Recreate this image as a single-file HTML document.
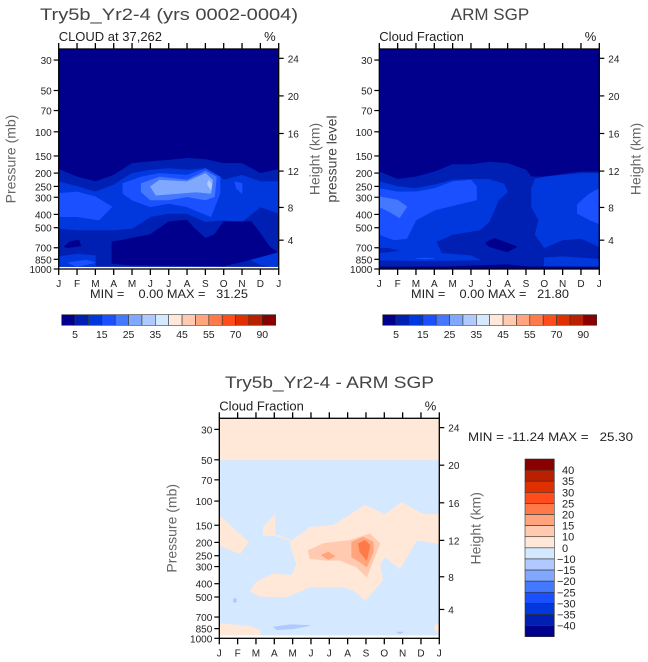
<!DOCTYPE html>
<html><head><meta charset="utf-8">
<style>
html,body{margin:0;padding:0;background:#fff;}
svg{display:block;font-family:"Liberation Sans",sans-serif;}
.pre{white-space:pre;}
</style></head>
<body>
<svg id="chart" width="648" height="662" viewBox="0 0 648 662" xmlns="http://www.w3.org/2000/svg"></svg>
<script>
// ---------- data ----------
const months = ['J','F','M','A','M','J','J','A','S','O','N','D','J'];
const pTicks = [30,50,70,100,150,200,250,300,400,500,700,850,1000];
const hTicks = [24,20,16,12,8,4];
const palette = ['#00008c','#0020b4','#0038de','#1a50ff','#4478ff','#80a8ff','#b0caff','#d4e8ff','#ffe8d8','#ffcab0','#ffa47c','#ff7a48','#ff4c1a','#e03000','#b82000','#880000'];
const topBarLabels = ['5','15','25','35','45','55','70','90'];
const diffBarLabels = ['40','35','30','25','20','15','10','0','-10','-15','-20','-25','-30','-35','-40'];

// model panel contour polygons: [month, pressure mb]
const modelL1 = [[0,188],[1,213],[2,231],[3,207],[4,170],[5,165],[6,161],[7,156],[8,159],[9,170],[10,170],[11,201],[12,188],[12,1000],[0,1000]];
const modelL2 = [[0,231],[1,251],[2,274],[3,244],[4,201],[5,190],[6,185],[7,190],[8,185],[8.8,213],[9,225],[10,207],[11,231],[12,231],[12,394],[11,352],[10,452],[9,440],[8,452],[7,394],[6,394],[5,416],[4,506],[3,520],[2,520],[1,520],[0,506]];
const modelNavyLow = [[2.9,633],[3.5,615],[5,560],[6,452],[7,440],[7.4,506],[8,598],[8.5,560],[9,452],[10.5,452],[10.8,506],[11.5,688],[12,770],[11,814],[10,885],[9,950],[4,936],[2.9,911]];
const modelNavyBlob = [[0.6,633],[1.1,615],[1.2,680],[0.5,700],[0.3,688]];
const modelL2Low = [[0,814],[1,780],[2,800],[2,970],[0,970]];
const modelL2LowR = [[10.5,861],[11.5,790],[12,760],[12,970],[11,930]];
const modelL3Low = [[0.5,900],[1.5,861],[2,900],[1,960]];
const modelL3a = [[0,281],[1,274],[2,297],[2.9,352],[2.2,440],[1,416],[0,416]];
const modelL3b = [[3.5,238],[4.5,213],[5.5,201],[7,207],[8,185],[8.8,213],[8.8,281],[8.3,416],[7,352],[6,333],[5,352],[4,314],[3.5,281]];
const modelL3c = [[9.6,231],[10,238],[10,281],[9.7,259]];
const modelL4 = [[4.5,238],[5.5,213],[7,225],[8,193],[8.6,213],[8.5,297],[8,314],[7,297],[6,314],[5,314],[4.5,274]];
const modelL5 = [[5,251],[5.5,225],[7,231],[8,201],[8.4,225],[8.3,281],[7.5,274],[6.5,281],[5.3,290]];
const modelL6 = [[8.2,225],[8.35,240],[8.3,265],[8.1,240]];

// ARM panel contour polygons
const armL1 = [[0,196],[1,222],[2,213],[3,196],[4,173],[5,173],[6,166],[7,170],[8,190],[8.3,213],[9,213],[10,204],[11,196],[12,196],[12,1000],[0,1000]];
const armL2a = [[0,231],[1,251],[2,259],[3,244],[4,225],[5,222],[6,222],[6.8,240],[7,274],[6.5,314],[6,452],[5.5,520],[4,560],[3.1,633],[3.4,770],[5,800],[5.5,861],[2,870],[0,860],[0,770],[1.2,740],[0.5,700],[0,700]];
const armL2b = [[8.5,222],[9,213],[10,207],[11,201],[12,201],[12,688],[11,598],[10,615],[9,700],[8.5,560],[8.7,440],[8.3,352],[8.3,259]];
const armL2c = [[9,828],[10,814],[12,850],[12,950],[9,950]];
const armL3a = [[0,259],[1,274],[2,274],[3,259],[4,231],[5,225],[5.3,251],[5.3,314],[4.5,333],[3,372],[2,440],[1.5,598],[0.8,615],[0,560]];
const armL4a = [[0,297],[1,314],[1.5,352],[1.1,423],[0.5,380],[0,352]];
const armL3b = [[11,320],[11.5,281],[12,259],[12,470],[11.5,440],[10.8,394],[10.8,340]];
const armL3c = [[2,838],[2.5,830],[3,835],[2.5,845]];
const armNavyBlob = [[6,620],[6.3,598],[7.5,688],[7,750],[6,688],[5.8,650]];
const armNavyBottom = [[0,965],[4,960],[7,930],[8,960],[12,975],[12,1000],[0,1000]];

// difference panel polygons
const diffTop = [[0,10],[12,10],[12,50],[0,50]];
const diffPeachLeft = [[0,127],[1.58,199],[1.13,242],[0,210]];
const diffPeachMain = [[2.4,155],[3.04,125],[3.04,178],[3.95,195],[4.95,155],[6.22,150],[7.95,107],[9.04,125],[9.95,102],[11.13,125],[12,125],[12,204],[10.76,193],[9.85,311],[9.04,256],[8.76,286],[8.91,378],[7.95,529],[7.31,447],[6.76,423],[4.95,423],[3.67,500],[2.22,495],[1.67,452],[2.04,389],[2.95,338],[3.95,348],[4.22,286],[3.95,229],[3.85,193],[3.31,178],[2.4,178]];
const diffPeachBottom = [[0,782],[1.67,819],[2.22,875],[2.22,1000],[0,1000]];
const diffPeachBR = [[11.76,805],[12,782],[12,925],[11.76,875]];
const diff10 = [[4.85,229],[5.67,204],[7.13,193],[8.22,173],[8.76,204],[8.04,358],[7.49,302],[6.58,270],[5.85,270],[4.95,263]];
const diff15a = [[5.58,248],[5.95,235],[6.31,253],[5.95,267]];
const diff15b = [[7.22,199],[7.85,183],[8.4,199],[8.4,235],[8.04,302],[7.67,278],[7.22,256]];
const diff20 = [[7.58,204],[7.95,193],[8.22,210],[8.04,270],[7.67,235]];
const diffBlue1 = [[2.95,828],[3.85,796],[4.95,805],[4.04,852],[3.13,865]];
const diffBlue2 = [[9.67,900],[10.04,900],[9.85,925]];
const diffBlue3 = [[0.8,510],[0.95,520],[0.9,550],[0.75,540]];

// ---------- drawing ----------
const NS = 'http://www.w3.org/2000/svg';
const svg = document.getElementById('chart');
function el(tag, attrs, parent){
  const e = document.createElementNS(NS, tag);
  for (const k in attrs) e.setAttribute(k, attrs[k]);
  (parent||svg).appendChild(e);
  return e;
}
function txt(s, attrs, parent){ const t = el('text', attrs, parent); t.textContent = s; return t; }
function hToP(z){ z*=1000; return z<=11000 ? 1013.25*Math.pow(1-2.2558e-5*z,5.2559) : 226.32*Math.exp(-(z-11000)/6341.6); }

function panel(cfg){
  const g = el('g', {});
  
  
  const x0=cfg.x0, w=220, yB=cfg.yB, yT=yB-220;
  const xS = m => x0 + m*w/12;
  const yS = p => yB - 137.2*Math.log10(1000/p);
  const cid = cfg.name+'-clip';
  const cp = el('clipPath', {id:cid}, g);
  el('rect', {x:x0, y:yT, width:w, height:yS(cfg.fillBottom)-yT}, cp);
  const fg = el('g', {'clip-path':'url(#'+cid+')'}, g);
  const bg = el('rect', {x:x0, y:yT, width:w, height:220, fill:palette[cfg.bgLevel]}, fg);
  
  
  cfg.polys.forEach(([pts, lvl, nm]) => {
    const d = pts.map(([m,p],i)=>(i?'L':'M')+xS(m).toFixed(1)+','+yS(p).toFixed(1)).join('')+'Z';
    const pe = el('path', {d:d, fill:palette[lvl], stroke:palette[lvl], 'stroke-width':0.6, 'stroke-linejoin':'round'}, fg);
    
    
  });
  const fr = el('rect', {x:x0, y:yT, width:w, height:220, fill:'none', stroke:'#000', 'stroke-width':1.3}, g);
  
  
  months.forEach((m,i)=>{
    const x = xS(i);
    el('line', {x1:x, x2:x, y1:yB, y2:yB+6, stroke:'#000', 'stroke-width':1.3}, g);
    el('line', {x1:x, x2:x, y1:yT, y2:yT-6, stroke:'#000', 'stroke-width':1.3}, g);
    const t = txt(m, {x:x, y:yB+18, 'font-size':10, 'text-anchor':'middle', fill:'#222'}, g);
    
    
  });
  pTicks.forEach(p=>{
    const y = yS(p);
    el('line', {x1:x0-5, x2:x0, y1:y, y2:y, stroke:'#000', 'stroke-width':1.2}, g);
    const t = txt(String(p), {x:x0-7, y:y+4, 'font-size':10, 'text-anchor':'end', fill:'#222'}, g);
    
    
  });
  hTicks.forEach(h=>{
    const y = yS(hToP(h));
    el('line', {x1:x0+w, x2:x0+w+5, y1:y, y2:y, stroke:'#000', 'stroke-width':1.2}, g);
    const t = txt(String(h), {x:x0+w+9, y:y+4, 'font-size':10, fill:'#222'}, g);
    
    
  });
  const st = txt(cfg.sub, {x:x0, y:yT-8, 'font-size':13, fill:'#222'}, g);
  
  
  const pc = txt('%', {x:x0+w-3, y:yT-8, 'font-size':13, 'text-anchor':'end', fill:'#222'}, g);
  
  
  const ht = txt('Height (km)', {x:0, y:0, 'font-size':14, 'text-anchor':'middle', fill:'#666', transform:'translate('+(x0+w+41)+','+(yT+110)+') rotate(-90)'}, g);
  
  
  const pt = txt(cfg.ylabel, {x:0, y:0, 'font-size':14, 'text-anchor':'middle', fill:cfg.ylabelColor, transform:'translate('+(x0-43)+','+(yT+110)+') rotate(-90)'}, g);
  
  
  return g;
}

panel({name:'model-panel', x0:58.7, yB:269, fillBottom:963, bgLevel:0, sub:'CLOUD at 37,262', ylabel:'Pressure (mb)', ylabelColor:'#666',
  polys:[[modelL1,1,'contour-5-10'],[modelL2,2,'contour-10-15'],[modelNavyLow,0,'contour-low-navy'],[modelNavyBlob,0,'contour-navy-blob'],
         [modelL2Low,2,'contour-low-left'],[modelL2LowR,2,'contour-low-right'],[modelL3Low,3,'contour-low-15'],
         [modelL3a,3,'contour-15-20-left'],[modelL3b,3,'contour-15-20'],[modelL3c,3,'contour-15-20-small'],
         [modelL4,4,'contour-20-25'],[modelL5,5,'contour-25-30'],[modelL6,6,'contour-30-35']]});
panel({name:'arm-panel', x0:379.3, yB:269, fillBottom:1000, bgLevel:0, sub:'Cloud Fraction', ylabel:'pressure level', ylabelColor:'#444',
  polys:[[armL1,1,'contour-5-10'],[armL2a,2,'contour-10-15-left'],[armL2b,2,'contour-10-15-right'],[armL2c,2,'contour-10-15-low'],
         [armL3a,3,'contour-15-20-left'],[armL4a,4,'contour-20-25'],[armL3b,3,'contour-15-20-right'],[armL3c,3,'contour-15-20-low'],
         [armNavyBlob,0,'contour-navy-blob'],[armNavyBottom,0,'contour-navy-bottom']]});
panel({name:'difference-panel', x0:219.3, yB:638.3, fillBottom:955, bgLevel:7, sub:'Cloud Fraction', ylabel:'Pressure (mb)', ylabelColor:'#666',
  polys:[[diffTop,8,'contour-top-positive'],[diffPeachLeft,8,'contour-0-10-left'],[diffPeachMain,8,'contour-0-10'],[diffPeachBottom,8,'contour-0-10-bottom'],
         [diffPeachBR,8,'contour-0-10-corner'],[diff10,9,'contour-10-15'],[diff15a,10,'contour-15-20-a'],[diff15b,10,'contour-15-20-b'],
         [diff20,11,'contour-20-25'],[diffBlue1,6,'contour-neg-1'],[diffBlue2,6,'contour-neg-2'],[diffBlue3,6,'contour-neg-3']]});

function label(s, attrs, name){ const t = txt(s, attrs);   return t; }
label('Try5b_Yr2-4 (yrs 0002-0004)', {x:40, y:20, 'font-size':17, fill:'#444', textLength:258, lengthAdjust:'spacingAndGlyphs'}, 'model-title');
label('ARM SGP', {x:490, y:20, 'font-size':17, fill:'#444', 'text-anchor':'middle'}, 'arm-title');
label('Try5b_Yr2-4 - ARM SGP', {x:225, y:388, 'font-size':17, fill:'#444', textLength:209, lengthAdjust:'spacingAndGlyphs'}, 'difference-title');
label('MIN =    0.00 MAX =   31.25', {x:90, y:298, 'font-size':12, fill:'#222', 'class':'pre', textLength:158, lengthAdjust:'spacingAndGlyphs'}, 'model-min-max');
label('MIN =    0.00 MAX =   21.80', {x:411, y:298, 'font-size':12, fill:'#222', 'class':'pre', textLength:158, lengthAdjust:'spacingAndGlyphs'}, 'arm-min-max');
label('MIN = -11.24 MAX =   25.30', {x:468, y:441, 'font-size':12, fill:'#222', 'class':'pre', textLength:165, lengthAdjust:'spacingAndGlyphs'}, 'difference-min-max');

function hbar(x0, name){
  const g = el('g', {});
  
  
  const cw = 214/palette.length;
  palette.forEach((c,i)=>{
    const r = el('rect', {x:x0+i*cw, y:314.7, width:cw, height:10.6, fill:c, stroke:'#333', 'stroke-width':0.6}, g);
    
    
  });
  topBarLabels.forEach((s,i)=>{
    const t = txt(s, {x:x0+(2*i+1)*cw, y:338, 'font-size':10.5, 'text-anchor':'middle', fill:'#222'}, g);
    
    
  });
}
hbar(61.7, 'model-colorbar');
hbar(382.7, 'arm-colorbar');

(function(){
  const g = el('g', {});
  
  
  const ch = 177.7/palette.length;
  palette.slice().reverse().forEach((c,i)=>{
    const r = el('rect', {x:525, y:459+i*ch, width:29.3, height:ch, fill:c, stroke:'#333', 'stroke-width':0.6}, g);
    
    
  });
  diffBarLabels.forEach((s,i)=>{
    const t = txt(s.replace('-','\u2212'), {x:s[0]==='-'?557:562, y:459+(i+1)*ch+4, 'font-size':11, fill:'#222'}, g);
    
    
  });
})();
</script>
</body></html>
